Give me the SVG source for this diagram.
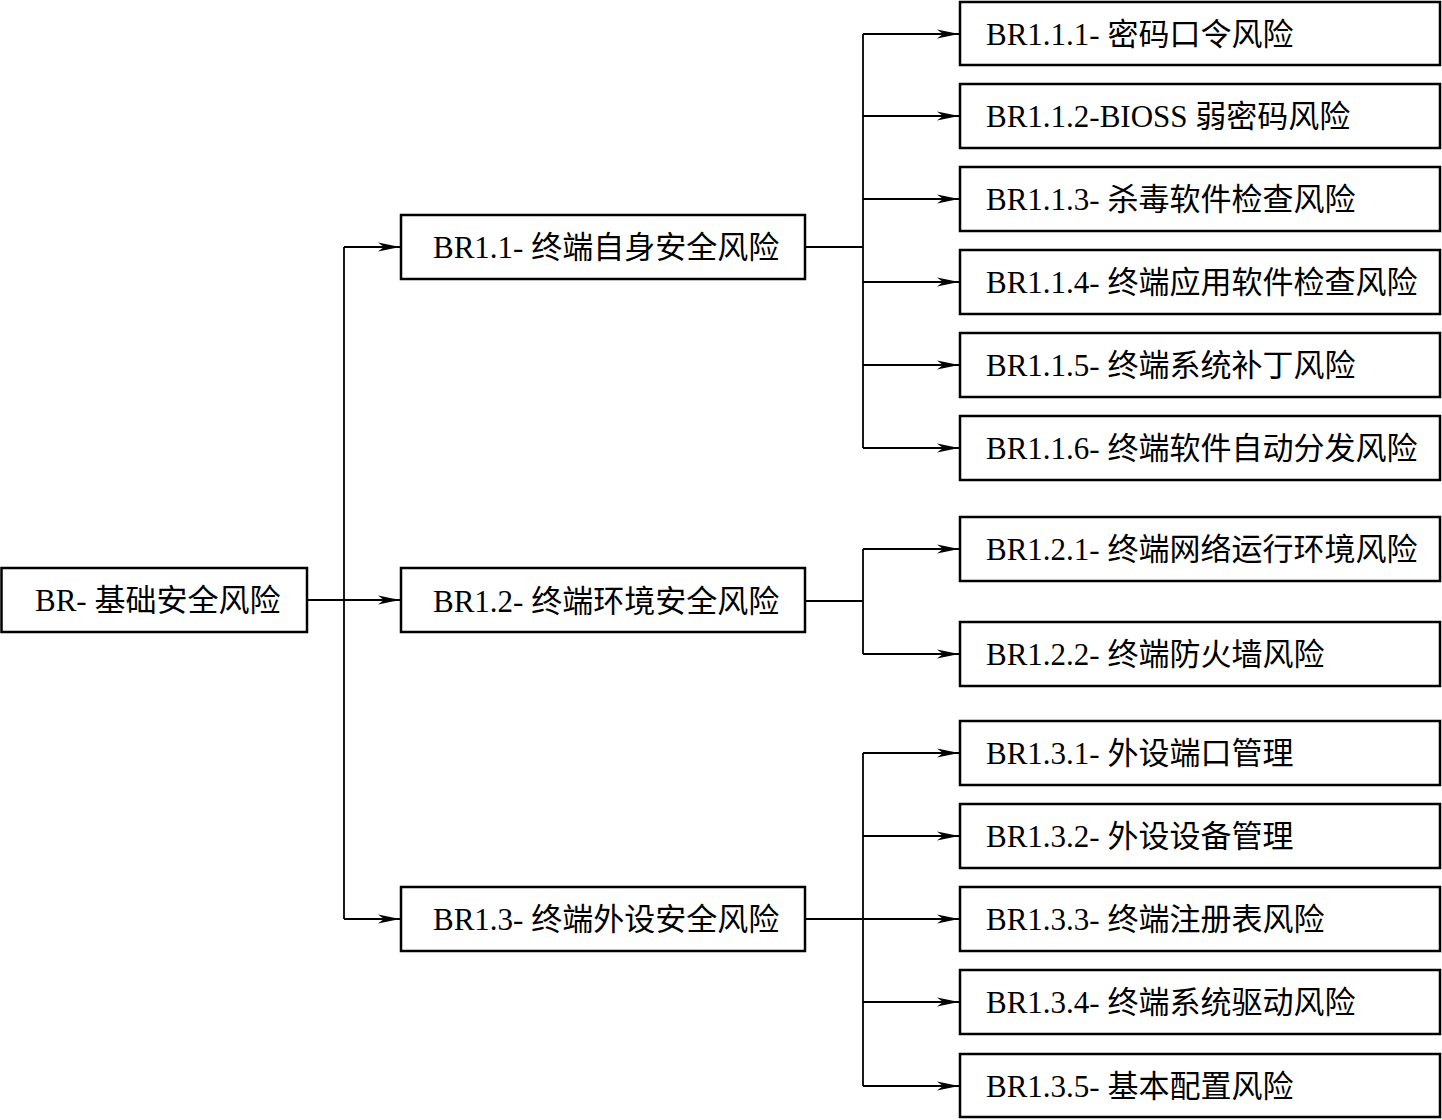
<svg xmlns="http://www.w3.org/2000/svg" width="1442" height="1120" viewBox="0 0 1442 1120">
<style>
.box{fill:#fff;stroke:#000;stroke-width:2.5}
.t{font-family:"Liberation Serif","Noto Sans CJK SC",serif;font-size:31px;fill:#000}
.ln{fill:none;stroke:#000;stroke-width:1.8}
.ar{fill:none;stroke:#000;stroke-width:1.8;marker-end:url(#ah)}
</style>
<defs>
<marker id="ah" markerUnits="userSpaceOnUse" markerWidth="22" markerHeight="12" viewBox="0 0 22 12" refX="22" refY="6" orient="auto">
<path d="M0,1.5 L22,6 L0,10.5 L6,6 z" fill="#000"/>
</marker>
</defs>
<rect width="1442" height="1120" fill="#fff"/>
<g id="connectors">
<path class="ln" d="M344,247 V919"/>
<path class="ar" d="M307,600 H400"/>
<path class="ar" d="M344,247 H400"/>
<path class="ar" d="M344,919 H400"/>
<path class="ln" d="M805,247 H863 M863,34 V448"/>
<path class="ar" d="M863,34 H959"/>
<path class="ar" d="M863,116 H959"/>
<path class="ar" d="M863,199 H959"/>
<path class="ar" d="M863,282 H959"/>
<path class="ar" d="M863,365 H959"/>
<path class="ar" d="M863,448 H959"/>
<path class="ln" d="M805,601 H863 M863,549 V654"/>
<path class="ar" d="M863,549 H959"/>
<path class="ar" d="M863,654 H959"/>
<path class="ln" d="M863,753 V1086"/>
<path class="ar" d="M805,919 H959"/>
<path class="ar" d="M863,753 H959"/>
<path class="ar" d="M863,836 H959"/>
<path class="ar" d="M863,1002 H959"/>
<path class="ar" d="M863,1086 H959"/>
</g>
<g id="BR"><rect class="box" x="1.5" y="568" width="305.5" height="64"/><text class="t" x="35" y="611">BR- 基础安全风险</text></g>
<g id="BR1.1"><rect class="box" x="401" y="215" width="404" height="64"/><text class="t" x="433" y="258">BR1.1- 终端自身安全风险</text></g>
<g id="BR1.2"><rect class="box" x="401" y="568" width="404" height="64"/><text class="t" x="433" y="612">BR1.2- 终端环境安全风险</text></g>
<g id="BR1.3"><rect class="box" x="401" y="887" width="404" height="64"/><text class="t" x="433" y="930">BR1.3- 终端外设安全风险</text></g>
<g id="BR1.1.1"><rect class="box" x="960" y="2" width="480" height="63"/><text class="t" x="986" y="45">BR1.1.1- 密码口令风险</text></g>
<g id="BR1.1.2"><rect class="box" x="960" y="84" width="480" height="64"/><text class="t" x="986" y="127">BR1.1.2-BIOSS 弱密码风险</text></g>
<g id="BR1.1.3"><rect class="box" x="960" y="167" width="480" height="64"/><text class="t" x="986" y="210">BR1.1.3- 杀毒软件检查风险</text></g>
<g id="BR1.1.4"><rect class="box" x="960" y="250" width="480" height="64"/><text class="t" x="986" y="293">BR1.1.4- 终端应用软件检查风险</text></g>
<g id="BR1.1.5"><rect class="box" x="960" y="333" width="480" height="64"/><text class="t" x="986" y="376">BR1.1.5- 终端系统补丁风险</text></g>
<g id="BR1.1.6"><rect class="box" x="960" y="416" width="480" height="64"/><text class="t" x="986" y="459">BR1.1.6- 终端软件自动分发风险</text></g>
<g id="BR1.2.1"><rect class="box" x="960" y="517" width="480" height="64"/><text class="t" x="986" y="560">BR1.2.1- 终端网络运行环境风险</text></g>
<g id="BR1.2.2"><rect class="box" x="960" y="622" width="480" height="64"/><text class="t" x="986" y="665">BR1.2.2- 终端防火墙风险</text></g>
<g id="BR1.3.1"><rect class="box" x="960" y="721" width="480" height="64"/><text class="t" x="986" y="764">BR1.3.1- 外设端口管理</text></g>
<g id="BR1.3.2"><rect class="box" x="960" y="804" width="480" height="64"/><text class="t" x="986" y="847">BR1.3.2- 外设设备管理</text></g>
<g id="BR1.3.3"><rect class="box" x="960" y="887" width="480" height="64"/><text class="t" x="986" y="930">BR1.3.3- 终端注册表风险</text></g>
<g id="BR1.3.4"><rect class="box" x="960" y="970" width="480" height="64"/><text class="t" x="986" y="1013">BR1.3.4- 终端系统驱动风险</text></g>
<g id="BR1.3.5"><rect class="box" x="960" y="1054" width="480" height="63"/><text class="t" x="986" y="1097">BR1.3.5- 基本配置风险</text></g>
</svg>
